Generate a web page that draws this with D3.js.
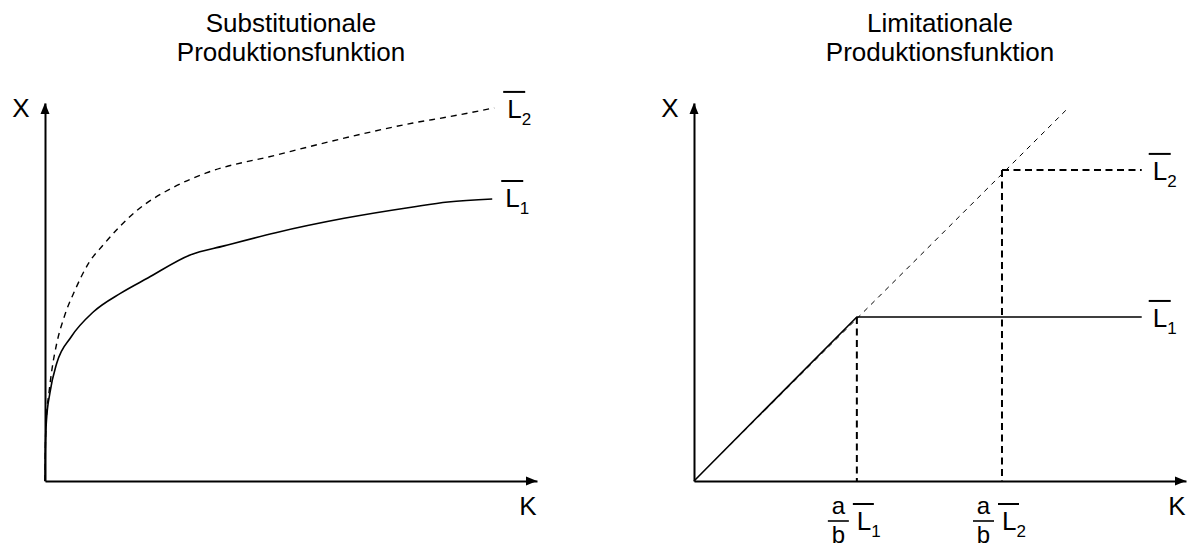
<!DOCTYPE html>
<html>
<head>
<meta charset="utf-8">
<script src="https://cdn.jsdelivr.net/npm/d3@7"></script>
<style>
  body { margin: 0; background: #fff; }
  text { font-family: "Liberation Sans", Arial, sans-serif; fill: #000; }
</style>
</head>
<body>
<svg width="1189" height="549"></svg>
<script>
// titles
const titles = [["Substitutionale", "Produktionsfunktion"], ["Limitationale", "Produktionsfunktion"]];

// left chart: substitutional curves [K, X]
const subL1 = [[0, 0], [0.006, 0.82], [0.03, 1.61], [0.10, 2.33], [0.24, 3.12], [0.53, 3.81],
  [0.98, 4.47], [1.54, 4.97], [2.09, 5.37], [2.95, 5.98], [3.64, 6.22],
  [4.69, 6.57], [6.08, 6.95], [7.48, 7.25], [8.19, 7.38], [9.09, 7.46]];
const subL2 = [[0, 0], [0.01, 1.08], [0.03, 1.69], [0.08, 2.33], [0.14, 2.94], [0.24, 3.65],
  [0.39, 4.34], [0.61, 5.05], [0.89, 5.77], [1.18, 6.24], [1.88, 7.17], [2.58, 7.75],
  [3.28, 8.15], [4.69, 8.62], [6.08, 9.07], [7.48, 9.47], [8.18, 9.63], [9.13, 9.87]];

// right chart: limitational
const limKink = [3.31, 6.26];     // K = a/b * L
const limLevel = [4.34, 8.23];    // X level for L1, L2
const limEndK = 9.1;
const rayEnd = [7.56, 9.81];
const limSubs = ["1", "2"];

const svg = d3.select("svg");
const W = 492, H = 378;
const panels = [{ x0: 45, y0: 481 }, { x0: 694, y0: 481 }];

function makeScales(p) {
  return {
    x: d3.scaleLinear().domain([0, 10]).range([p.x0, p.x0 + W]),
    y: d3.scaleLinear().domain([0, 10]).range([p.y0, p.y0 - H])
  };
}

function drawAxes(p, s) {
  const g = svg.append("g");
  g.append("g").attr("transform", "translate(0," + p.y0 + ")")
    .call(d3.axisBottom(s.x).tickValues([]).tickSizeOuter(0))
    .select(".domain").attr("stroke-width", 2);
  g.append("g").attr("transform", "translate(" + p.x0 + ",0)")
    .call(d3.axisLeft(s.y).tickValues([]).tickSizeOuter(0))
    .select(".domain").attr("stroke-width", 2);
  const xe = s.x(10), ye = s.y(10);
  g.append("path").attr("d", `M${xe},${p.y0} l-11,-4.5 l0,9 z`);
  g.append("path").attr("d", `M${p.x0},${ye} l-4.5,11 l9,0 z`);
  g.append("text").attr("x", p.x0 - 24).attr("y", 117).attr("font-size", 26)
    .attr("text-anchor", "middle").text("X");
  g.append("text").attr("x", xe - 9).attr("y", 515).attr("font-size", 26)
    .attr("text-anchor", "middle").text("K");
}

function barL(x, y, sub, ol) {
  const t = svg.append("text").attr("x", x).attr("y", y).attr("font-size", 26).text("L");
  t.append("tspan").attr("font-size", 17).attr("dy", 7).text(sub);
  svg.append("line").attr("x1", x - ol[0]).attr("x2", x + ol[1])
    .attr("y1", y - 26).attr("y2", y - 26).attr("stroke", "#000").attr("stroke-width", 2);
}

// titles
panels.forEach((p, i) => {
  const cx = p.x0 + W / 2;
  titles[i].forEach((t, j) => {
    svg.append("text").attr("x", cx).attr("y", 32 + j * 29).attr("font-size", 26)
      .attr("text-anchor", "middle").text(t);
  });
});

// left chart
const sL = makeScales(panels[0]);
const line = d3.line().x(d => sL.x(d[0])).y(d => sL.y(d[1])).curve(d3.curveMonotoneX);
svg.append("path").datum(subL2).attr("d", line).attr("fill", "none")
  .attr("stroke", "#000").attr("stroke-width", 1.4).attr("stroke-dasharray", "6,5");
svg.append("path").datum(subL1).attr("d", line).attr("fill", "none")
  .attr("stroke", "#000").attr("stroke-width", 1.6);
drawAxes(panels[0], sL);
barL(sL.x(subL2[subL2.length - 1][0]) + 13, sL.y(subL2[subL2.length - 1][1]) + 10, "2", [4, 18]);
barL(sL.x(subL1[subL1.length - 1][0]) + 13, sL.y(subL1[subL1.length - 1][1]) + 8, "1", [4, 18]);

// right chart
const sR = makeScales(panels[1]);
svg.append("line").attr("x1", sR.x(0)).attr("y1", sR.y(0))
  .attr("x2", sR.x(rayEnd[0])).attr("y2", sR.y(rayEnd[1]))
  .attr("stroke", "#000").attr("stroke-width", 1).attr("stroke-dasharray", "5,5");
svg.append("path")
  .attr("d", d3.line()([[sR.x(0), sR.y(0)], [sR.x(limKink[0]), sR.y(limLevel[0])], [sR.x(limEndK), sR.y(limLevel[0])]]))
  .attr("fill", "none").attr("stroke", "#000").attr("stroke-width", 1.6);
svg.append("line").attr("x1", sR.x(limKink[1])).attr("y1", sR.y(limLevel[1]))
  .attr("x2", sR.x(limEndK)).attr("y2", sR.y(limLevel[1]))
  .attr("stroke", "#000").attr("stroke-width", 2).attr("stroke-dasharray", "7,4.5");
limKink.forEach((k, i) => {
  svg.append("line").attr("x1", sR.x(k)).attr("y1", sR.y(limLevel[i]))
    .attr("x2", sR.x(k)).attr("y2", sR.y(0))
    .attr("stroke", "#000").attr("stroke-width", 2).attr("stroke-dasharray", "7,4.5");
});
drawAxes(panels[1], sR);
barL(sR.x(limEndK) + 11, sR.y(limLevel[1]) + 10, limSubs[1], [4, 18]);
barL(sR.x(limEndK) + 11, sR.y(limLevel[0]) + 10, limSubs[0], [4, 18]);

// tick labels a/b L
limKink.forEach((k, i) => {
  const tx = sR.x(k);
  svg.append("text").attr("x", tx - 18.5).attr("y", 514).attr("font-size", 24)
    .attr("text-anchor", "middle").text("a");
  svg.append("line").attr("x1", tx - 29).attr("x2", tx - 8).attr("y1", 521).attr("y2", 521)
    .attr("stroke", "#000").attr("stroke-width", 1.6);
  svg.append("text").attr("x", tx - 18.5).attr("y", 543).attr("font-size", 24)
    .attr("text-anchor", "middle").text("b");
  barL(tx, 530, limSubs[i], [4, 17]);
});
</script>
</body>
</html>
